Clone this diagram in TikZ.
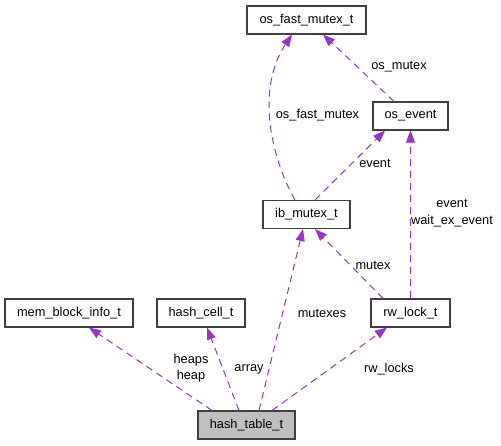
\documentclass[tikz,border=0pt]{standalone}
\usepackage{fontspec}
\setmainfont{Liberation Sans}
\usetikzlibrary{arrows.meta}
\definecolor{edgec}{HTML}{9A32CD}
\definecolor{boxc}{HTML}{404040}
\definecolor{grayfill}{HTML}{BFBFBF}
\begin{document}
\begin{tikzpicture}[x=1pt,y=-1pt,
  cls/.style={draw=boxc,line width=1.1pt,fill=white,minimum height=28pt,inner sep=0pt,font=\fontsize{12.8pt}{14pt}\selectfont},
  lab/.style={inner sep=0pt,font=\fontsize{12.8pt}{16.5pt}\selectfont,align=center},
  rel/.style={draw=edgec,line width=1pt,dash pattern=on 7pt off 5pt,-{Triangle[length=12pt,width=9pt,fill=edgec,line width=0.8pt]}}]
\useasboundingbox (0,0) rectangle (501,445);
\node[cls,minimum width=119pt] (osf) at (306.5,20) {os\_fast\_mutex\_t};
\node[cls,minimum width=75pt] (ose) at (410.5,116) {os\_event};
\node[cls,minimum width=87pt] (ib) at (306.5,214.5) {ib\_mutex\_t};
\node[cls,minimum width=128pt] (mem) at (69,313) {mem\_block\_info\_t};
\node[cls,minimum width=88pt] (hc) at (201,313) {hash\_cell\_t};
\node[cls,minimum width=79pt] (rw) at (410.5,313) {rw\_lock\_t};
\node[cls,minimum width=97pt,fill=grayfill] (ht) at (246.5,425) {hash\_table\_t};

\draw[rel] ([xshift=-11.5pt]ib.north) .. controls (272,160) and (255,90) .. ([xshift=-14.5pt]osf.south);
\draw[rel] ([xshift=-16.5pt]ose.north) -- ([xshift=16.5pt]osf.south);
\draw[rel] ([xshift=8.5pt]ib.north) -- ([xshift=-25.5pt]ose.south);
\draw[rel] (rw.north) -- (ose.south);
\draw[rel] ([xshift=-27.5pt]rw.north) -- ([xshift=8.5pt]ib.south);
\draw[rel] ([xshift=12.5pt]ht.north) -- ([xshift=-3.5pt]ib.south);
\draw[rel] ([xshift=25.5pt]ht.north) -- ([xshift=-23.5pt]rw.south);
\draw[rel] ([xshift=-7.5pt]ht.north) -- ([xshift=6pt]hc.south);
\draw[rel] ([xshift=-34.5pt]ht.north) -- ([xshift=20pt]mem.south);

\node[lab] (l1) at (317.5,115) {os\_fast\_mutex};
\node[lab] (l2) at (399,67) {os\_mutex};
\node[lab] (l3) at (375,163) {event};
\node[lab] (l4) at (452,213) {event\\wait\_ex\_event};
\node[lab] (l5) at (373,265) {mutex};
\node[lab] (l6) at (322,313) {mutexes};
\node[lab] (l7) at (389,369) {rw\_locks};
\node[lab] (l8) at (249,369) {array};
\node[lab] (l9) at (191,368) {heaps\\heap};
\end{tikzpicture}
\end{document}
